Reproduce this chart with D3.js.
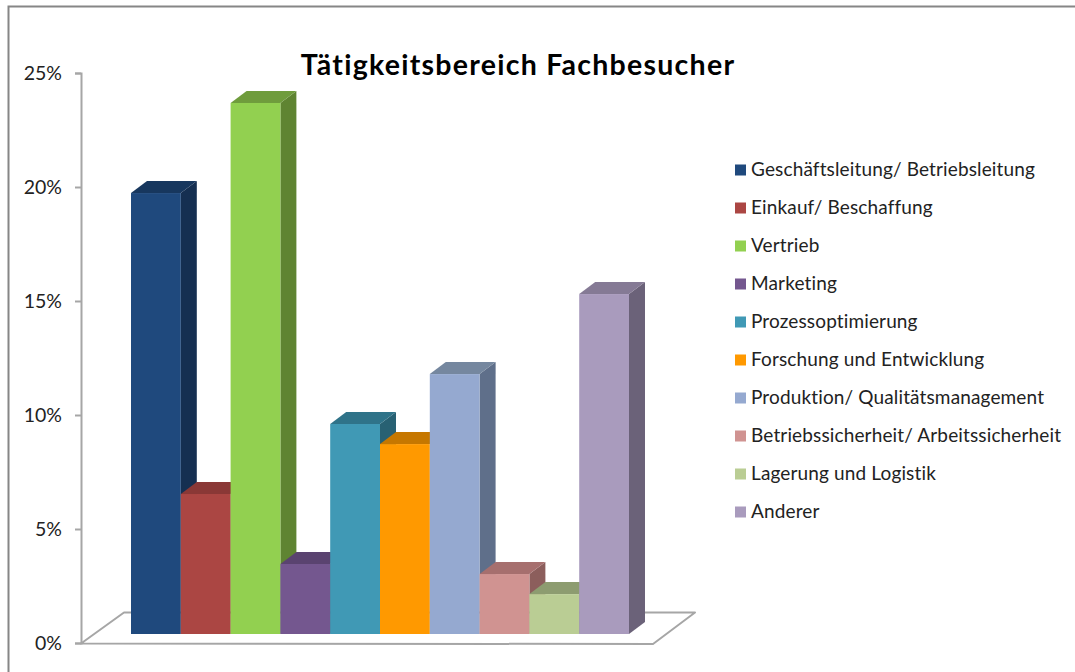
<!DOCTYPE html>
<html><head><meta charset="utf-8">
<script src="https://cdn.jsdelivr.net/npm/d3@7/dist/d3.min.js"></script>
<style>html,body{margin:0;padding:0;background:#fff;overflow:hidden}svg{display:block}</style>
</head><body><svg id="c" width="1075" height="672"></svg>
<script>
const chartTitle = "Tätigkeitsbereich Fachbesucher";
const categories = ["Geschäftsleitung/ Betriebsleitung","Einkauf/ Beschaffung","Vertrieb","Marketing","Prozessoptimierung","Forschung und Entwicklung","Produktion/ Qualitätsmanagement","Betriebssicherheit/ Arbeitssicherheit","Lagerung und Logistik","Anderer"];
const values = [19.34,6.14,23.29,3.07,9.21,8.33,11.4,2.63,1.75,14.91];
const frontColors = ["#1f497d","#ab4643","#92d050","#74578f","#4099b5","#ff9900","#95a9d0","#d09391","#bacd94","#a99bbd"];
const topColors = ["#17375e","#8a3836","#6f9c3c","#5a4370","#2f7389","#c67700","#75879f","#a66f6e","#8d9c70","#857a95"];
const sideColors = ["#152f51","#742f2d","#5f8432","#4b385f","#286173","#a86500","#5f6f8a","#8c5e5c","#77845f","#6b6279"];
const axisTicks = [0,5,10,15,20,25];

const svg = d3.select("#c");
const depthX = 16, depthY = 12;

// frame
svg.append("path").attr("d","M8.5,672V6.5H1075").attr("fill","none").attr("stroke","#868686").attr("stroke-width",2);

const yAxisScale = d3.scaleLinear().domain([0,25]).range([643,73]);
const yBar = d3.scaleLinear().domain([0,25]).range([634,64]);
const x = d3.scaleBand().domain(categories).range([131,629]).padding(0);

// floor
svg.append("path")
  .attr("d","M81,643.5L124,612.5H695L653,644Z")
  .attr("fill","#fff").attr("stroke","#a6a6a6").attr("stroke-width",2).attr("stroke-linejoin","round");

// axis
const axis = d3.axisLeft(yAxisScale).tickValues(axisTicks).tickSize(6).tickSizeOuter(6).tickFormat(d=>d+"%");
const gA = svg.append("g").attr("transform","translate(81,0)").call(axis);
gA.selectAll("path,line").attr("stroke","#a6a6a6").attr("stroke-width",2);
gA.selectAll("text").attr("font-family","Lato, 'Open Sans', sans-serif").attr("font-size",19.5).attr("fill","#222").attr("x",-19).attr("dy","0.32em");

// bars
const rows = categories.map((c,i)=>({c,v:values[i],i}));
const bars = svg.append("g").selectAll("g").data(rows).join("g");
bars.append("path").attr("fill",d=>sideColors[d.i]).attr("d",d=>{
  const r=x(d.c)+x.bandwidth(), t=yBar(d.v), b=yBar(0);
  return `M${r},${t}l${depthX},${-depthY}V${b-depthY}L${r},${b}Z`;
});
bars.append("path").attr("fill",d=>topColors[d.i]).attr("d",d=>{
  const l=x(d.c), r=l+x.bandwidth(), t=yBar(d.v);
  return `M${l},${t}l${depthX},${-depthY}H${r+depthX}L${r},${t}Z`;
});
bars.append("rect").attr("x",d=>x(d.c)).attr("y",d=>yBar(d.v)).attr("width",x.bandwidth()).attr("height",d=>yBar(0)-yBar(d.v)).attr("fill",d=>frontColors[d.i]);

// title
svg.append("text").attr("x",518).attr("y",75).attr("text-anchor","middle")
  .attr("font-family","Lato, sans-serif").attr("font-weight",700).attr("font-size",28.5).attr("letter-spacing",1.25).attr("fill","#000").text(chartTitle);

// legend
const legendY = d3.scalePoint().domain(categories).range([170,512]);
const lg = svg.append("g").selectAll("g").data(rows).join("g").attr("transform",d=>`translate(735,${legendY(d.c)})`);
lg.append("rect").attr("x",0).attr("y",-5.5).attr("width",11).attr("height",11).attr("fill",d=>frontColors[d.i]);
lg.append("text").attr("x",16).attr("dy","0.34em").attr("font-family","Lato, sans-serif").attr("font-size",19).attr("letter-spacing",0.14).attr("fill","#222").text(d=>d.c);
</script></body></html>
